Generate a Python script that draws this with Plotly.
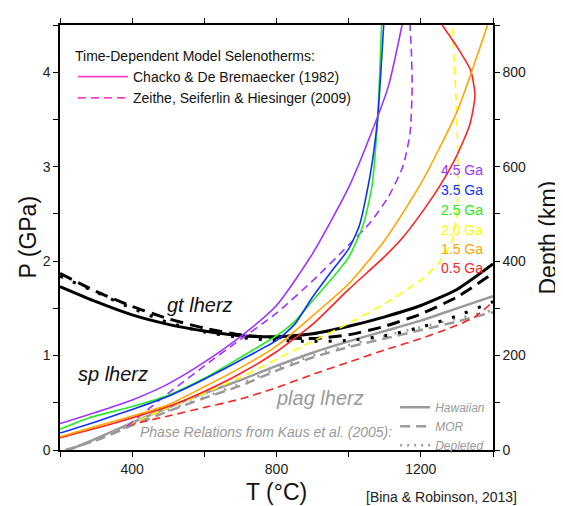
import plotly.graph_objects as go

# ---------------- data ----------------
# Garnet/spinel lherzolite transition (black), T in C, P in GPa
gt_T = [200, 300, 400, 500, 600, 700, 800, 900, 1000, 1100, 1200, 1300, 1400]
gt_hawaiian_P = [1.73, 1.57, 1.43, 1.33, 1.26, 1.21, 1.20, 1.23, 1.31, 1.41, 1.53, 1.70, 1.97]
gt_mor_P = [1.87, 1.68, 1.52, 1.39, 1.29, 1.22, 1.19, 1.18, 1.22, 1.31, 1.44, 1.62, 1.87]
gt_depleted_P = [1.84, 1.67, 1.50, 1.35, 1.25, 1.19, 1.16, 1.15, 1.16, 1.21, 1.30, 1.42, 1.57]

# Plagioclase/spinel lherzolite transition (gray)
plag_hawaiian_T = [225, 300, 400, 500, 600, 700, 800, 900, 1000, 1100, 1200, 1300, 1400]
plag_hawaiian_P = [0.0, 0.12, 0.29, 0.45, 0.60, 0.74, 0.89, 1.03, 1.15, 1.26, 1.37, 1.50, 1.63]
plag_mor_T = [215, 300, 400, 500, 600, 700, 800, 900, 1000, 1100, 1200, 1300, 1400]
plag_mor_P = [0.0, 0.10, 0.26, 0.41, 0.55, 0.68, 0.84, 0.98, 1.09, 1.18, 1.27, 1.36, 1.46]
plag_depleted_T = [220, 300, 400, 500, 600, 700, 800, 900, 1000, 1100, 1200, 1300, 1400]
plag_depleted_P = [0.0, 0.11, 0.27, 0.42, 0.56, 0.70, 0.86, 1.00, 1.11, 1.21, 1.30, 1.39, 1.48]

# Chacko & De Bremaecker (1982) selenotherms (solid)
ch45_T = [200, 300, 400, 500, 600, 700, 800, 900, 1000, 1060, 1110, 1148]
ch45_P = [0.28, 0.40, 0.53, 0.70, 0.93, 1.20, 1.53, 2.08, 2.78, 3.33, 3.85, 4.5]
ch35_T = [200, 300, 400, 500, 600, 700, 800, 850, 900, 950, 1000, 1030, 1060, 1080, 1097]
ch35_P = [0.18, 0.30, 0.43, 0.57, 0.75, 0.95, 1.16, 1.33, 1.62, 1.88, 2.13, 2.38, 2.92, 3.50, 4.5]
ch25_T = [200, 280, 400, 500, 600, 700, 800, 850, 900, 950, 1000, 1040, 1064, 1080, 1091]
ch25_P = [0.22, 0.34, 0.46, 0.58, 0.76, 0.98, 1.21, 1.36, 1.58, 1.80, 2.04, 2.38, 2.78, 3.49, 4.5]
ch15_T = [200, 300, 400, 500, 600, 700, 800, 900, 1000, 1100, 1200, 1300, 1385]
ch15_P = [0.14, 0.25, 0.36, 0.48, 0.67, 0.87, 1.10, 1.42, 1.76, 2.22, 2.82, 3.58, 4.5]
ch05_T = [200, 300, 400, 500, 600, 700, 800, 900, 1000, 1100, 1150, 1200, 1250, 1300, 1336, 1350, 1338, 1300, 1259]
ch05_P = [0.13, 0.23, 0.34, 0.46, 0.62, 0.81, 1.04, 1.33, 1.70, 2.05, 2.25, 2.50, 2.78, 3.12, 3.45, 3.75, 4.02, 4.27, 4.5]

# Zeithe, Seiferlin & Hiesinger (2009) selenotherms (dashed)
ze45_T = [385, 500, 600, 700, 800, 900, 1000, 1060, 1110, 1150, 1170, 1176, 1174, 1170]
ze45_P = [0.25, 0.60, 0.89, 1.17, 1.45, 1.79, 2.17, 2.41, 2.68, 3.00, 3.35, 3.85, 4.2, 4.5]
ze20_T = [385, 500, 600, 700, 800, 900, 1000, 1100, 1200, 1250, 1285, 1300, 1303, 1300, 1293, 1287]
ze20_P = [0.26, 0.45, 0.60, 0.77, 0.96, 1.15, 1.34, 1.55, 1.80, 1.98, 2.20, 2.50, 3.00, 3.50, 4.10, 4.5]
ze05_T = [385, 500, 600, 700, 800, 900, 1000, 1100, 1200, 1300, 1350, 1400]
ze05_P = [0.26, 0.36, 0.45, 0.54, 0.66, 0.80, 0.93, 1.06, 1.18, 1.32, 1.41, 1.57]

age_labels = ["4.5 Ga", "3.5 Ga", "2.5 Ga", "2.0 Ga", "1.5 Ga", "0.5 Ga"]
age_label_P = [2.96, 2.75, 2.54, 2.33, 2.125, 1.93]

depth_range = [0, 900]
T_ticks = [400, 800, 1200]
P_ticks = [0, 1, 2, 3, 4]
depth_ticks = [0, 200, 400, 600, 800]

# ---------------- styles ----------------
PURPLE = "#a033ff"
BLUE = "#1030ff"
GREEN = "#22ee22"
YELLOW = "#ffff00"
ORANGE = "#ffa500"
RED = "#ff2222"
MAGENTA = "#ff40cc"
GRAY = "#9a9a9a"
FONT = "Liberation Sans, Arial, sans-serif"

fig = go.Figure()


def add_line(x, y, color, width, dash="solid", smooth=0.6, **kw):
    fig.add_trace(go.Scatter(
        x=x, y=y, mode="lines",
        line=dict(color=color, width=width, dash=dash, shape="spline", smoothing=smooth),
        showlegend=False, hoverinfo="skip", **kw))


# gray plag curves
add_line(plag_hawaiian_T, plag_hawaiian_P, GRAY, 2.5)
add_line(plag_mor_T, plag_mor_P, GRAY, 2.5, dash="10px,6px")
add_line(plag_depleted_T, plag_depleted_P, GRAY, 2.5, dash="2px,10px")

# black gt curves
add_line(gt_T, gt_hawaiian_P, "black", 3)
add_line(gt_T, gt_mor_P, "black", 3, dash="13px,7px")
add_line(gt_T, gt_depleted_P, "black", 3, dash="3px,11px")

# Zeithe dashed selenotherms
add_line(ze05_T, ze05_P, RED, 1.6, dash="8px,5px")
add_line(ze20_T, ze20_P, YELLOW, 1.6, dash="8px,5px")
add_line(ze45_T, ze45_P, PURPLE, 1.6, dash="8px,5px")

# Chacko solid selenotherms
add_line(ch05_T, ch05_P, RED, 1.6)
add_line(ch15_T, ch15_P, ORANGE, 1.6)
add_line(ch25_T, ch25_P, GREEN, 1.6)
add_line(ch35_T, ch35_P, BLUE, 1.6)
add_line(ch45_T, ch45_P, PURPLE, 1.6)

# depth axis carrier (invisible)
fig.add_trace(go.Scatter(x=[gt_T[0], gt_T[-1]], y=depth_range, yaxis="y2", mode="lines",
                         line=dict(color="rgba(0,0,0,0)"), showlegend=False, hoverinfo="skip"))

# legend entries (top-left)
fig.add_trace(go.Scatter(x=[None], y=[None], mode="lines", name="Chacko & De Bremaecker (1982)",
                         line=dict(color=MAGENTA, width=1.6), legend="legend"))
fig.add_trace(go.Scatter(x=[None], y=[None], mode="lines", name="Zeithe, Seiferlin & Hiesinger (2009)",
                         line=dict(color=MAGENTA, width=1.6, dash="8px,5px"), legend="legend"))
# legend entries (bottom-right)
fig.add_trace(go.Scatter(x=[None], y=[None], mode="lines", name="Hawaiian",
                         line=dict(color=GRAY, width=2.5), legend="legend2"))
fig.add_trace(go.Scatter(x=[None], y=[None], mode="lines", name="MOR",
                         line=dict(color=GRAY, width=2.5, dash="10px,6px"), legend="legend2"))
fig.add_trace(go.Scatter(x=[None], y=[None], mode="lines", name="Depleted",
                         line=dict(color=GRAY, width=2.5, dash="2px,5px"), legend="legend2"))

ann = []
age_colors = [PURPLE, BLUE, GREEN, YELLOW, ORANGE, RED]
for lab, p, c in zip(age_labels, age_label_P, age_colors):
    ann.append(dict(x=1378, y=p, xref="x", yref="y", text=lab, showarrow=False,
                    xanchor="right", yanchor="middle", font=dict(size=14, color=c, family=FONT)))

ann += [
    dict(x=588, y=1.54, text="gt lherz", font=dict(size=20, color="#111", family=FONT, style="italic")),
    dict(x=347, y=0.80, text="sp lherz", font=dict(size=20, color="#111", family=FONT, style="italic")),
    dict(x=920, y=0.55, text="plag lherz", font=dict(size=20, color=GRAY, family=FONT, style="italic")),
    dict(x=771, y=0.19, text="Phase Relations from Kaus et al. (2005):",
         font=dict(size=14, color=GRAY, family=FONT, style="italic")),
]
for a in ann[len(age_labels):]:
    a.update(xref="x", yref="y", showarrow=False, xanchor="center", yanchor="middle")

ann += [
    dict(x=-0.076, y=0.5, xref="paper", yref="paper", text="P (GPa)", textangle=-90, showarrow=False,
         xanchor="center", yanchor="middle", font=dict(size=23, color="#111", family=FONT)),
    dict(x=1.127, y=0.5, xref="paper", yref="paper", text="Depth (km)", textangle=-90, showarrow=False,
         xanchor="center", yanchor="middle", font=dict(size=23, color="#111", family=FONT)),
    dict(x=0.5, y=-0.099, xref="paper", yref="paper", text="T (°C)", showarrow=False,
         xanchor="center", yanchor="middle", font=dict(size=23, color="#111", family=FONT)),
    dict(x=0.882, y=-0.111, xref="paper", yref="paper", text="[Bina & Robinson, 2013]", showarrow=False,
         xanchor="center", yanchor="middle", font=dict(size=14, color="#222", family=FONT)),
]

axis_common = dict(showline=True, linecolor="black", linewidth=1.5, ticks="outside", ticklen=5,
                   tickwidth=1.2, tickcolor="black", showgrid=False, zeroline=False,
                   tickfont=dict(size=14, color="#222", family=FONT))

# page body has an 8px margin: shrink the figure and margins to keep the plot area in place
fig.update_layout(
    width=555, height=498,
    margin=dict(l=52, r=70, t=10, b=56),
    plot_bgcolor="white", paper_bgcolor="white",
    font=dict(family=FONT),
    xaxis=dict(range=[200, 1400], tickvals=T_ticks, mirror="ticks",
               minor=dict(dtick=200, tick0=0, ticks="outside", ticklen=5, tickcolor="black", showgrid=False),
               **axis_common),
    yaxis=dict(range=[0, 4.5], tickvals=P_ticks, mirror=False,
               minor=dict(dtick=0.5, tick0=0, ticks="outside", ticklen=5, tickcolor="black", showgrid=False),
               **axis_common),
    yaxis2=dict(range=depth_range, tickvals=depth_ticks, overlaying="y", side="right", anchor="x",
                minor=dict(dtick=100, tick0=0, ticks="outside", ticklen=5, tickcolor="black", showgrid=False),
                **axis_common),
    legend=dict(x=0.03, y=0.958, xanchor="left", yanchor="top", bgcolor="rgba(0,0,0,0)",
                itemwidth=50, tracegroupgap=0,
                title=dict(text="Time-Dependent Model Selenotherms:", font=dict(size=14, color="#111", family=FONT)),
                font=dict(size=14, color="#111", family=FONT)),
    legend2=dict(x=0.774, y=0.135, xanchor="left", yanchor="top", bgcolor="rgba(0,0,0,0)",
                 font=dict(size=12, color=GRAY, family=FONT, style="italic")),
    annotations=ann,
)

fig.write_html("out.html")
